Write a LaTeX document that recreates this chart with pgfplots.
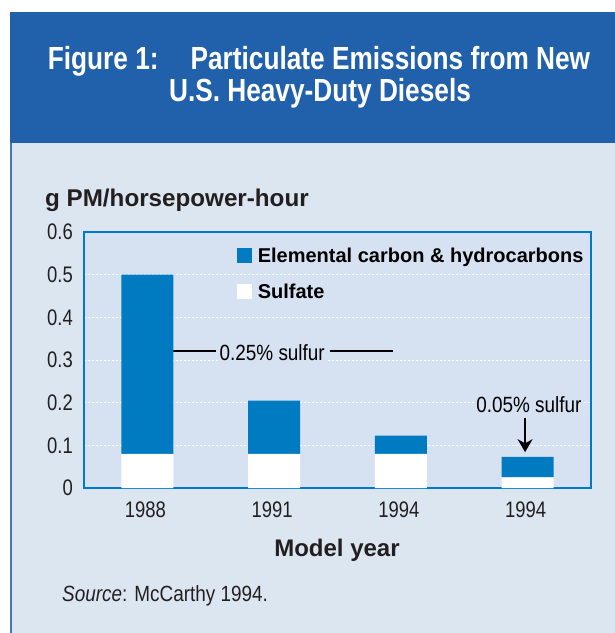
\documentclass[border=0pt]{standalone}
\usepackage{pgfplots}
\pgfplotsset{compat=1.18}
\usetikzlibrary{arrows.meta}
\usepackage{fontspec}
\setmainfont{Liberation Sans}[FakeStretch=0.86]
\newfontfamily\wide{Liberation Sans}
\newfontfamily\cond{Liberation Sans}[FakeStretch=0.82]

\definecolor{banner}{RGB}{33,96,170}
\definecolor{bgpanel}{RGB}{220,230,241}
\definecolor{axbg}{RGB}{214,226,242}
\definecolor{barblue}{RGB}{0,122,192}
\definecolor{frameblue}{RGB}{0,122,200}
\definecolor{txt}{RGB}{35,31,32}

\begin{document}
\begin{tikzpicture}[x=1pt,y=1pt]
\path[use as bounding box] (0,0) rectangle (615,-633);
\fill[white] (0,0) rectangle (615,-633);
\fill[banner] (10,-12) rectangle (615,-143);
\fill[bgpanel] (10,-143) rectangle (615,-633);
\draw[banner!85, line width=1.5pt] (10.75,-143) -- (10.75,-633);
\node[white, anchor=base, inner sep=0pt, font=\cond\bfseries\fontsize{32}{32}\selectfont] at (319,-69) {Figure 1:\hspace{32pt}Particulate Emissions from New};
\node[white, anchor=base, inner sep=0pt, font=\cond\bfseries\fontsize{32}{32}\selectfont] at (320,-101) {U.S. Heavy-Duty Diesels};
\node[txt, anchor=base west, inner sep=0pt, font=\wide\bfseries\fontsize{24.2}{24}\selectfont] at (45,-206) {g PM/horsepower-hour};
\node[txt, anchor=base, inner sep=0pt, font=\wide\bfseries\fontsize{24}{24}\selectfont] at (337,-556) {Model year};
\node[txt, anchor=base west, inner sep=0pt, font=\fontsize{22}{22}\selectfont] at (62,-601) {\textit{Source}: McCarthy 1994.};

\begin{axis}[
  at={(84pt,-488pt)}, anchor=south west,
  scale only axis, width=507pt, height=256pt,
  ybar stacked, bar width=52pt,
  xmin=-0.5, xmax=3.5, ymin=0, ymax=0.6,
  xtick={0,1,2,3}, xticklabels={1988,1991,1994,1994},
  ytick={0,0.1,0.2,0.3,0.4,0.5,0.6},
  yticklabels={0,0.1,0.2,0.3,0.4,0.5,0.6},
  major tick length=0pt,
  /pgf/number format/assume math mode=true,
  tick label style={font=\cond\fontsize{22.5}{22.5}\selectfont, color=txt, inner sep=0pt},
  yticklabel style={anchor=east, xshift=-11pt},
  xticklabel style={anchor=north, yshift=-14pt, xshift=-2pt},
  axis background/.style={fill=axbg},
  axis line style={frameblue, line width=2pt},
  ymajorgrids,
  major grid style={white, dash pattern=on 2pt off 2pt, line width=0.8pt},
  legend image code/.code={\fill[#1,draw=none] (0pt,-7.5pt) rectangle (15pt,7.5pt);},
  reverse legend,
  legend style={at={(0.302,0.945)}, anchor=north west, draw=none, fill=none,
    font=\wide\bfseries\fontsize{20}{20}\selectfont, row sep=17pt, inner sep=0pt,
    nodes={inner sep=1.5pt, text=black}},
  legend cell align=left,
]
\addplot[fill=white, draw=none] coordinates {(0,0.08) (1,0.08) (2,0.08) (3,0.025)};
\addlegendentry{\hspace{4pt}Sulfate}
\addplot[fill=barblue, draw=none] coordinates {(0,0.42) (1,0.125) (2,0.043) (3,0.048)};
\addlegendentry{\hspace{4pt}Elemental carbon \& hydrocarbons}

\draw[black, line width=2.3pt] (axis cs:0.04,0.321) -- (axis cs:0.54,0.321);
\draw[black, line width=2.3pt] (axis cs:1.44,0.321) -- (axis cs:1.94,0.321);
\node[anchor=base, fill=axbg, inner sep=1pt, font=\fontsize{22}{22}\selectfont] at (axis cs:0.985,0.30) {0.25\% sulfur};
\node[anchor=base, fill=axbg, inner sep=1pt, font=\fontsize{22}{22}\selectfont] at (axis cs:3.01,0.178) {0.05\% sulfur};
\draw[black, line width=2pt, -{Stealth[length=13pt,width=15pt]}] (axis cs:2.98,0.165) -- (axis cs:2.98,0.084);
\end{axis}
\end{tikzpicture}
\end{document}
